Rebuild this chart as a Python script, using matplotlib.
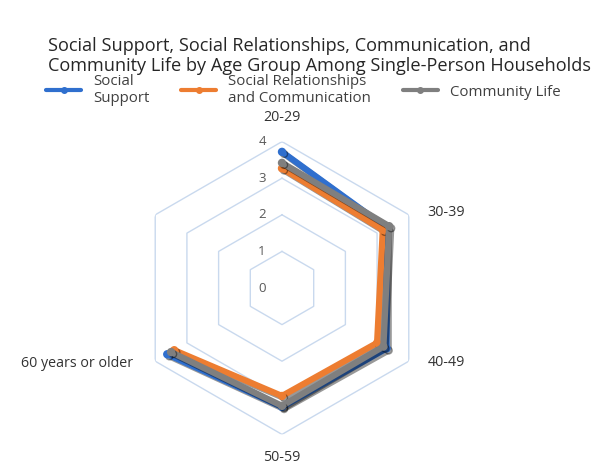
import numpy as np
import matplotlib
matplotlib.use('Agg')
import matplotlib.pyplot as plt
import matplotlib.patheffects as pe
from matplotlib.transforms import offset_copy

# data
categories = ['20-29', '30-39', '40-49', '50-59', '60 years or older', '']
social_support = [3.72, 3.30, 3.30, 3.25, 3.62, np.nan]
relationships = [3.27, 3.18, 3.00, 2.95, 3.40, np.nan]
community_life = [3.42, 3.38, 3.20, 3.22, 3.50, np.nan]
series_names = ['Social\nSupport', 'Social Relationships\nand Communication', 'Community Life']
r_ticks = [0, 1, 2, 3, 4]

colors = ['#2f6fce', '#ed7d31', '#7f7f7f']
title = ('Social Support, Social Relationships, Communication, and\n'
         'Community Life by Age Group Among Single-Person Households')

plt.rcParams['font.family'] = ['Open Sans', 'DejaVu Sans']

fig = plt.figure(figsize=(5.96, 4.66), dpi=100)
ax = fig.add_axes([0.2275, 0.0678, 0.4913, 0.6283], projection='polar')
ax.set_theta_zero_location('N')
ax.set_theta_direction(-1)

n = len(categories)
angles = np.arange(n) * 2 * np.pi / n

ax.set_ylim(0, 4)
ax.grid(False)
ax.spines['polar'].set_visible(False)
ax.set_xticks([])
ax.set_yticks([])
ax.patch.set_alpha(0)

# hexagonal grid
closed = np.append(angles, angles[0])
for r in r_ticks[1:]:
    ax.plot(closed, [r] * (n + 1), color='#c9d9ee', lw=1.0, zorder=1)

shadow = [pe.SimpleLineShadow(offset=(1.5, -1.5), alpha=0.4, shadow_color='k'), pe.Normal()]
handles = []
for vals, name, c in zip([social_support, relationships, community_life], series_names, colors):
    ln, = ax.plot(angles, vals, color=c, lw=4.5, marker='o', ms=5,
                  solid_joinstyle='round', solid_capstyle='round',
                  path_effects=shadow, zorder=3, label=name)
    handles.append(ln)

# radial value labels to the left of the top axis
trans = offset_copy(ax.transData, fig=fig, x=-20, y=0, units='dots')
for r in r_ticks:
    ax.text(0, r, str(r), transform=trans, ha='center', va='center',
            fontsize=9.5, color='#595959')

# category labels
offsets = [(0, 24), (37, 2), (38, -1), (0, -23), (-78, -2), (0, 0)]
for a, lab, off in zip(angles, categories, offsets):
    if lab:
        ax.annotate(lab, xy=(a, 4), xytext=off, textcoords='offset pixels',
                    ha='center', va='center', fontsize=10.3, color='#333333')

fig.text(48 / 596, 1 - 56 / 466, title, ha='left', va='center',
         fontsize=13.1, color='#262626', linespacing=1.1)

leg = fig.legend(handles=handles, loc='center left', bbox_to_anchor=(46 / 596, 1 - 90 / 466),
                 ncol=3, frameon=False, fontsize=10.8, handlelength=2.35, numpoints=1,
                 columnspacing=2.1, handletextpad=0.8, borderpad=0, borderaxespad=0,
                 labelcolor='#404040')
for h in leg.legend_handles:
    h.set_linewidth(3)
    h.set_markersize(4)
    h.set_path_effects([])

fig.savefig('out.png', dpi=100)
